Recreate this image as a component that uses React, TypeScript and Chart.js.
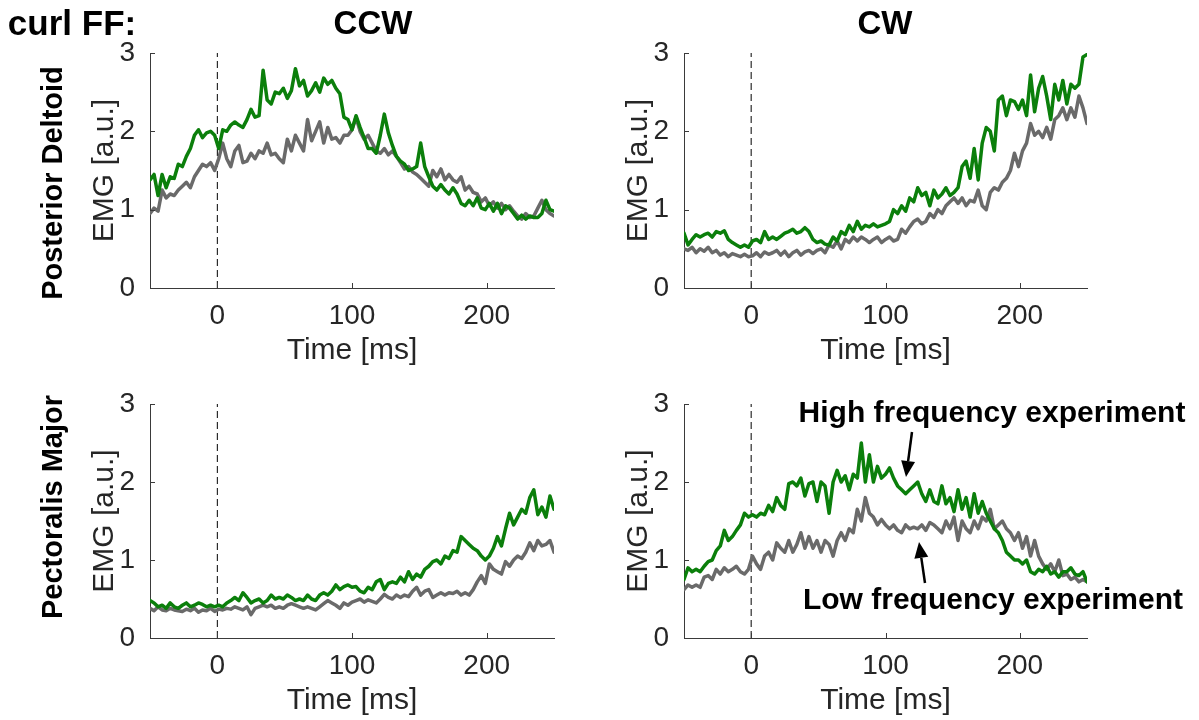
import React, { useEffect, useRef } from "react";
import { Chart, registerables } from "chart.js";

Chart.register(...registerables);

// ---------------- DATA ----------------
const TIME_MS = [
  -50, -47, -44, -41, -38, -35, -32, -29, -26, -23,
  -20, -17, -14, -11, -8, -5, -2, 1, 4, 7,
  10, 13, 16, 19, 22, 25, 28, 31, 34, 37,
  40, 43, 46, 49, 52, 55, 58, 61, 64, 67,
  70, 73, 76, 79, 82, 85, 88, 91, 94, 97,
  100, 103, 106, 109, 112, 115, 118, 121, 124, 127,
  130, 133, 136, 139, 142, 145, 148, 151, 154, 157,
  160, 163, 166, 169, 172, 175, 178, 181, 184, 187,
  190, 193, 196, 199, 202, 205, 208, 211, 214, 217,
  220, 223, 226, 229, 232, 235, 238, 241, 244, 247,
  250,
];

const X_TICKS = [0, 100, 200];
const X_MIN = -50;
const X_MAX = 250;
const Y_MIN = 0;
const Y_MAX = 3;
const ONSET_MS = 0;

// Posterior Deltoid, CCW
const ccwDeltHigh = [
  1.38, 1.45, 1.18, 1.45, 1.28, 1.42, 1.40, 1.58, 1.55, 1.68,
  1.78, 1.95, 2.02, 1.92, 1.98, 2.00, 1.95, 1.78, 2.02, 2.00,
  2.08, 2.12, 2.08, 2.05, 2.15, 2.28, 2.18, 2.20, 2.78, 2.40,
  2.35, 2.50, 2.48, 2.55, 2.42, 2.52, 2.80, 2.58, 2.65, 2.45,
  2.52, 2.62, 2.50, 2.68, 2.60, 2.65, 2.55, 2.48, 2.18, 2.15,
  2.02, 2.20, 2.05, 1.92, 1.78, 1.78, 1.72, 1.95, 2.22, 1.98,
  1.82, 1.68, 1.62, 1.58, 1.50, 1.52, 1.55, 1.85, 1.55, 1.42,
  1.30, 1.25, 1.32, 1.25, 1.20, 1.28, 1.20, 1.08, 1.05, 1.12,
  1.05, 1.15, 1.02, 1.00, 1.08, 0.98, 1.08, 0.95, 1.05, 1.02,
  0.95, 0.88, 0.93, 0.88, 0.92, 0.90, 0.90, 0.95, 1.12, 1.00,
  0.98,
];
const ccwDeltLow = [
  0.95, 1.02, 0.98, 1.25, 1.15, 1.20, 1.18, 1.25, 1.30, 1.35,
  1.28, 1.42, 1.50, 1.58, 1.55, 1.60, 1.50, 1.65, 1.85, 1.65,
  1.55, 1.75, 1.82, 1.60, 1.62, 1.72, 1.65, 1.75, 1.72, 1.85,
  1.70, 1.72, 1.65, 1.60, 1.90, 1.75, 1.95, 1.85, 1.75, 2.15,
  1.88, 2.00, 2.12, 1.85, 2.05, 1.90, 1.92, 1.85, 1.95, 1.95,
  2.02, 2.18, 2.00, 1.90, 1.95, 1.85, 1.75, 1.72, 1.78, 1.70,
  1.75, 1.68, 1.60, 1.52, 1.55, 1.48, 1.45, 1.40, 1.35, 1.30,
  1.50, 1.42, 1.52, 1.38, 1.45, 1.38, 1.35, 1.42, 1.25, 1.30,
  1.22, 1.20, 1.10, 1.15, 1.05, 1.10, 1.02, 1.08, 1.00, 1.05,
  0.98, 0.92, 0.88, 0.95, 0.90, 0.92, 1.02, 1.12, 1.00, 0.95,
  0.92,
];

// Posterior Deltoid, CW
const cwDeltHigh = [
  0.70, 0.55, 0.62, 0.68, 0.65, 0.68, 0.70, 0.65, 0.72, 0.70,
  0.73, 0.62, 0.58, 0.55, 0.52, 0.55, 0.52, 0.60, 0.62, 0.58,
  0.72, 0.62, 0.65, 0.62, 0.66, 0.70, 0.72, 0.75, 0.70, 0.72,
  0.77, 0.72, 0.62, 0.58, 0.60, 0.56, 0.55, 0.65, 0.60, 0.72,
  0.68, 0.80, 0.72, 0.85, 0.75, 0.80, 0.78, 0.82, 0.78, 0.80,
  0.82, 0.85, 1.00, 0.95, 1.05, 0.98, 1.15, 1.10, 1.28, 1.18,
  1.22, 1.05, 1.25, 1.15, 1.20, 1.28, 1.18, 1.22, 1.28, 1.55,
  1.62, 1.40, 1.78, 1.38, 1.85, 2.05, 2.00, 1.75, 2.40, 2.45,
  2.20, 2.40, 2.38, 2.28, 2.40, 2.20, 2.72, 2.25, 2.55, 2.70,
  2.45, 2.15, 2.60, 2.40, 2.65, 2.35, 2.60, 2.55, 2.60, 2.95,
  2.98,
];
const cwDeltLow = [
  0.50, 0.48, 0.52, 0.45, 0.50, 0.47, 0.52, 0.45, 0.48, 0.42,
  0.45, 0.40, 0.44, 0.42, 0.40, 0.43, 0.40, 0.41, 0.45, 0.40,
  0.46, 0.43, 0.45, 0.48, 0.42, 0.47, 0.40, 0.45, 0.48, 0.42,
  0.46, 0.48, 0.44, 0.48, 0.50, 0.45, 0.55, 0.52, 0.60, 0.50,
  0.62, 0.58, 0.65, 0.60, 0.65, 0.62, 0.58, 0.62, 0.65, 0.58,
  0.62, 0.65, 0.60, 0.62, 0.75, 0.70, 0.78, 0.85, 0.88, 0.82,
  0.85, 0.95, 0.90, 1.00, 0.95, 1.05, 1.10, 1.15, 1.08, 1.15,
  1.05, 1.12, 1.10, 1.25, 1.05, 1.00, 1.22, 1.28, 1.25, 1.35,
  1.40, 1.50, 1.72, 1.55, 1.75, 1.85, 2.10, 1.95, 2.00, 1.92,
  2.05, 1.90, 2.15, 2.20, 2.30, 2.15, 2.30, 2.18, 2.45, 2.30,
  2.10,
];

// Pectoralis Major, CCW
const ccwPecHigh = [
  0.48, 0.45, 0.40, 0.42, 0.38, 0.45, 0.40, 0.38, 0.42, 0.45,
  0.40, 0.42, 0.45, 0.43, 0.40, 0.42, 0.40, 0.42, 0.40, 0.45,
  0.48, 0.52, 0.48, 0.58, 0.52, 0.45, 0.48, 0.50, 0.45, 0.48,
  0.55, 0.50, 0.52, 0.50, 0.55, 0.52, 0.48, 0.50, 0.48, 0.55,
  0.50, 0.48, 0.55, 0.58, 0.55, 0.60, 0.68, 0.62, 0.66, 0.68,
  0.65, 0.66, 0.60, 0.58, 0.65, 0.62, 0.72, 0.75, 0.62, 0.70,
  0.72, 0.70, 0.78, 0.72, 0.85, 0.75, 0.82, 0.78, 0.88, 0.92,
  0.98, 1.00, 0.95, 1.05, 1.02, 1.12, 1.10, 1.30, 1.25, 1.20,
  1.15, 1.12, 1.05, 1.00, 1.05, 1.15, 1.30, 1.18, 1.40, 1.60,
  1.45, 1.55, 1.65, 1.60, 1.80, 1.90, 1.58, 1.68, 1.55, 1.82,
  1.65,
];
const ccwPecLow = [
  0.38, 0.35, 0.40, 0.36, 0.35, 0.38, 0.36, 0.35, 0.34, 0.37,
  0.35, 0.38, 0.33, 0.36, 0.35, 0.38, 0.34, 0.37, 0.36, 0.38,
  0.37, 0.40, 0.38, 0.36, 0.40, 0.30, 0.38, 0.40, 0.42, 0.40,
  0.42, 0.38, 0.40, 0.38, 0.42, 0.44, 0.42, 0.40, 0.38, 0.40,
  0.38, 0.36, 0.40, 0.44, 0.48, 0.45, 0.42, 0.38, 0.45, 0.42,
  0.46, 0.48, 0.50, 0.46, 0.49, 0.47, 0.45, 0.50, 0.56, 0.52,
  0.50, 0.55, 0.52, 0.55, 0.53, 0.60, 0.65, 0.55, 0.60, 0.62,
  0.52, 0.55, 0.58, 0.55, 0.58, 0.57, 0.60, 0.55, 0.58, 0.55,
  0.62, 0.72, 0.80, 0.70, 0.95, 0.88, 0.85, 0.82, 0.98, 0.92,
  1.00, 1.05, 1.02, 1.10, 1.22, 1.12, 1.25, 1.18, 1.20, 1.25,
  1.10,
];

// Pectoralis Major, CW
const cwPecHigh = [
  0.75, 0.90, 0.85, 0.88, 0.85, 0.92, 0.98, 1.00, 1.12, 1.18,
  1.38, 1.25, 1.30, 1.38, 1.45, 1.60, 1.55, 1.58, 1.55, 1.60,
  1.58, 1.70, 1.62, 1.80, 1.70, 1.65, 1.98, 2.00, 1.95, 2.05,
  1.82, 1.98, 2.00, 1.75, 2.00, 1.95, 1.60, 2.00, 2.15, 2.00,
  2.08, 1.90, 2.10, 2.05, 2.50, 2.00, 2.35, 2.00, 2.20, 2.05,
  2.10, 2.18, 2.05, 1.95, 1.90, 1.85, 1.90, 1.95, 2.00, 1.85,
  1.75, 1.90, 1.75, 1.72, 1.95, 1.72, 1.80, 1.62, 1.90, 1.65,
  1.80, 1.55, 1.85, 1.60, 1.75, 1.60, 1.50, 1.40, 1.35, 1.25,
  1.10, 1.05, 1.00, 1.00, 0.95, 1.00, 0.85, 0.82, 0.88, 0.85,
  0.92, 0.82, 0.85, 0.78, 0.85, 0.85, 0.90, 0.82, 0.80, 0.85,
  0.72,
];
const cwPecLow = [
  0.62, 0.68, 0.65, 0.68, 0.65, 0.78, 0.80, 0.75, 0.88, 0.82,
  0.90, 0.85, 0.88, 0.92, 0.85, 0.82, 0.88, 1.05, 0.95, 0.88,
  1.05, 1.10, 1.00, 1.22, 1.15, 1.10, 1.25, 1.10, 1.20, 1.35,
  1.15, 1.30, 1.15, 1.25, 1.10, 1.25, 1.20, 1.05, 1.25, 1.35,
  1.25, 1.40, 1.35, 1.65, 1.50, 1.80, 1.60, 1.55, 1.45, 1.52,
  1.45, 1.40, 1.45, 1.38, 1.35, 1.45, 1.40, 1.42, 1.40, 1.45,
  1.38, 1.48, 1.45, 1.40, 1.35, 1.50, 1.40, 1.55, 1.25, 1.50,
  1.40, 1.35, 1.50, 1.40, 1.55, 1.50, 1.65, 1.40, 1.45, 1.50,
  1.40, 1.35, 1.25, 1.35, 1.15, 1.30, 1.05, 1.25, 1.05, 0.95,
  0.88, 0.95, 0.85, 1.00, 0.80, 0.82, 0.75, 0.78, 0.72, 0.75,
  0.72,
];

// ---------------- STYLE ----------------
const FONT = "'Liberation Sans', Arial, Helvetica, sans-serif";
const GREEN = "#0b7f0b";
const GREY = "#6a6a6a";
const AXIS_COLOR = "#3a3a3a";
const TEXT_COLOR = "#262626";

const Y_AXIS_W = 120;
const X_AXIS_H = 100;
const PAD_T = 20;
const PAD_R = 20;

type PanelCfg = {
  id: string;
  plotLeft: number;
  plotTop: number;
  plotW: number;
  plotH: number;
  high: number[];
  low: number[];
};

const PANELS: PanelCfg[] = [
  { id: "ccw-delt", plotLeft: 150, plotTop: 52, plotW: 404, plotH: 236, high: ccwDeltHigh, low: ccwDeltLow },
  { id: "cw-delt", plotLeft: 684, plotTop: 52, plotW: 403, plotH: 236, high: cwDeltHigh, low: cwDeltLow },
  { id: "ccw-pec", plotLeft: 150, plotTop: 403, plotW: 404, plotH: 235, high: ccwPecHigh, low: ccwPecLow },
  { id: "cw-pec", plotLeft: 684, plotTop: 403, plotW: 403, plotH: 235, high: cwPecHigh, low: cwPecLow },
];

const innerTicks = {
  id: "innerTicks",
  afterDraw(chart: any) {
    const { ctx, chartArea, scales } = chart;
    const x = scales.x;
    const y = scales.y;
    ctx.save();
    ctx.strokeStyle = AXIS_COLOR;
    ctx.lineWidth = 1;
    x.ticks.forEach((t: any) => {
      const px = Math.round(x.getPixelForValue(t.value)) + 0.5;
      ctx.beginPath();
      ctx.moveTo(px, chartArea.bottom);
      ctx.lineTo(px, chartArea.bottom - 5);
      ctx.stroke();
    });
    y.ticks.forEach((t: any) => {
      const py = Math.round(y.getPixelForValue(t.value)) + 0.5;
      ctx.beginPath();
      ctx.moveTo(chartArea.left, py);
      ctx.lineTo(chartArea.left + 5, py);
      ctx.stroke();
    });
    ctx.restore();
  },
};

function Panel({ cfg }: { cfg: PanelCfg }) {
  const ref = useRef<HTMLCanvasElement>(null);
  const W = Y_AXIS_W + cfg.plotW + PAD_R;
  const H = PAD_T + cfg.plotH + X_AXIS_H;

  useEffect(() => {
    if (!ref.current) return;
    const toPts = (vals: number[]) => TIME_MS.map((t, i) => ({ x: t, y: vals[i] }));
    const chart = new Chart(ref.current, {
      type: "line",
      data: {
        datasets: [
          {
            label: "High frequency experiment",
            data: toPts(cfg.high),
            borderColor: GREEN,
            borderWidth: 3.5,
            pointRadius: 0,
            tension: 0,
            borderJoinStyle: "round",
            borderCapStyle: "round",
          },
          {
            label: "Low frequency experiment",
            data: toPts(cfg.low),
            borderColor: GREY,
            borderWidth: 3.5,
            pointRadius: 0,
            tension: 0,
            borderJoinStyle: "round",
            borderCapStyle: "round",
          },
          {
            label: "onset",
            data: [
              { x: ONSET_MS, y: Y_MIN },
              { x: ONSET_MS, y: Y_MAX },
            ],
            borderColor: "#000000",
            borderWidth: 1,
            borderDash: [7, 4],
            pointRadius: 0,
          },
        ],
      } as any,
      options: {
        animation: false,
        responsive: false,
        devicePixelRatio: 1,
        events: [],
        layout: { padding: { left: 0, top: PAD_T, right: PAD_R, bottom: 0 } },
        plugins: { legend: { display: false }, tooltip: { enabled: false } },
        scales: {
          x: {
            type: "linear",
            min: X_MIN,
            max: X_MAX,
            grid: { display: false },
            border: { display: true, color: AXIS_COLOR, width: 1 },
            afterBuildTicks: (s: any) => {
              s.ticks = X_TICKS.map((v) => ({ value: v }));
            },
            afterFit: (s: any) => {
              s.height = X_AXIS_H;
            },
            ticks: {
              color: TEXT_COLOR,
              font: { family: FONT, size: 28, lineHeight: 1 },
              padding: 6,
              maxRotation: 0,
              autoSkip: false,
            },
            title: {
              display: true,
              text: "Time [ms]",
              color: TEXT_COLOR,
              font: { family: FONT, size: 30, lineHeight: 1 },
              padding: { top: 0, bottom: X_AXIS_H - 78 },
            },
          },
          y: {
            type: "linear",
            min: Y_MIN,
            max: Y_MAX,
            grid: { display: false },
            border: { display: true, color: AXIS_COLOR, width: 1 },
            afterFit: (s: any) => {
              s.width = Y_AXIS_W;
            },
            ticks: {
              stepSize: 1,
              color: TEXT_COLOR,
              font: { family: FONT, size: 28, lineHeight: 1 },
              padding: 7,
            },
            title: {
              display: true,
              text: "EMG [a.u.]",
              color: TEXT_COLOR,
              font: { family: FONT, size: 30, lineHeight: 1 },
              padding: { top: Y_AXIS_W - 45 - 15, bottom: 0 },
            },
          },
        },
      } as any,
      plugins: [innerTicks],
    });
    return () => chart.destroy();
  }, [cfg]);

  return (
    <canvas
      ref={ref}
      width={W}
      height={H}
      style={{
        position: "absolute",
        left: cfg.plotLeft - Y_AXIS_W,
        top: cfg.plotTop - PAD_T,
        width: W,
        height: H,
      }}
    />
  );
}

function Label({
  text,
  x,
  y,
  size,
  rotate,
}: {
  text: string;
  x: number;
  y: number;
  size: number;
  rotate?: boolean;
}) {
  return (
    <div
      style={{
        position: "absolute",
        left: x,
        top: y,
        transform: `translate(-50%, -50%)${rotate ? " rotate(-90deg)" : ""}`,
        fontFamily: FONT,
        fontWeight: "bold",
        fontSize: size,
        lineHeight: 1,
        whiteSpace: "nowrap",
        color: "#000",
      }}
    >
      {text}
    </div>
  );
}

function Arrow({ x1, y1, x2, y2 }: { x1: number; y1: number; x2: number; y2: number }) {
  const dx = x2 - x1;
  const dy = y2 - y1;
  const len = Math.hypot(dx, dy);
  const ux = dx / len;
  const uy = dy / len;
  const hl = 16;
  const hw = 7;
  const bx = x2 - ux * hl;
  const by = y2 - uy * hl;
  const px = -uy;
  const py = ux;
  const pts = `${x2},${y2} ${bx + px * hw},${by + py * hw} ${bx - px * hw},${by - py * hw}`;
  return (
    <g>
      <line x1={x1} y1={y1} x2={bx} y2={by} stroke="#000" strokeWidth={2.5} />
      <polygon points={pts} fill="#000" />
    </g>
  );
}

export default function App() {
  return (
    <div
      style={{
        position: "absolute",
        left: 0,
        top: 0,
        width: 1199,
        height: 720,
        background: "#ffffff",
        overflow: "hidden",
      }}
    >
      {PANELS.map((p) => (
        <Panel key={p.id} cfg={p} />
      ))}
      <Label text="curl FF:" x={72} y={22} size={35} />
      <Label text="CCW" x={373} y={22} size={33} />
      <Label text="CW" x={885} y={22} size={33} />
      <Label text="Posterior Deltoid" x={52} y={183} size={29} rotate />
      <Label text="Pectoralis Major" x={52} y={507} size={29} rotate />
      <Label text="High frequency experiment" x={992} y={412} size={30} />
      <Label text="Low frequency experiment" x={993} y={599} size={30} />
      <svg
        width={1199}
        height={720}
        style={{ position: "absolute", left: 0, top: 0, pointerEvents: "none" }}
      >
        <Arrow x1={912} y1={432} x2={906} y2={477} />
        <Arrow x1={925} y1={583} x2={919} y2={542} />
      </svg>
    </div>
  );
}
